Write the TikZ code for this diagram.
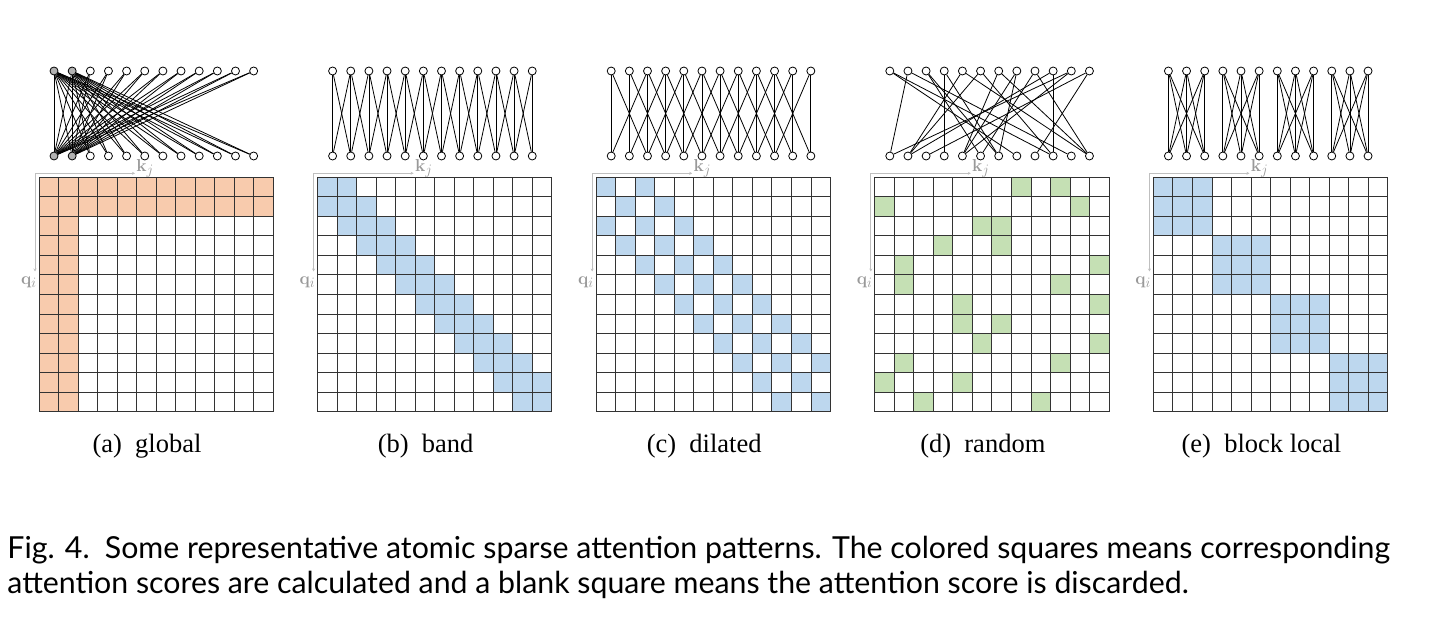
\documentclass[tikz,border=0pt]{standalone}
\usepackage[no-math]{fontspec}
\setmainfont{Liberation Serif}
\newfontfamily\capfont{Lato}
\usetikzlibrary{arrows.meta}

\definecolor{globalc}{HTML}{F8CBAD}
\definecolor{localc}{HTML}{BDD7EE}
\definecolor{randc}{HTML}{C5E0B4}

% which cell (\i,\j) is kept
\newcommand\globaltest{or(\i<2,\j<2)}
\newcommand\bandtest{abs(\i-\j)<2}
\newcommand\dilatedtest{or(\i==\j,abs(\i-\j)==2)}
\newcommand\randomtest{or(\j=={7,0,5,3,1,1,4,4,5,1,0,2}[\i],\j=={9,10,6,6,11,9,11,6,11,9,4,8}[\i])}
\newcommand\blocktest{int(\i/3)==int(\j/3)}

\begin{document}
\begin{tikzpicture}[x=1pt, y=-1pt, line width=0.8pt,
  tok/.style={circle, draw, fill=white, inner sep=0pt, minimum size=8pt, line width=0.8pt},
  link/.style={line width=0.8pt},
  cell/.style={draw=black!80, line width=1pt},
  axis/.style={draw=black!25, line width=0.9pt, {Stealth[length=3pt,width=3pt]}-{Stealth[length=3pt,width=3pt]}},
  axlbl/.style={text=black!40, font=\fontsize{19}{19}\selectfont, inner sep=1pt},
  subcap/.style={font=\fontsize{26.5}{26.5}\selectfont, inner sep=0pt}]
  \useasboundingbox (0,0) rectangle (1440,644);

  \foreach \p/\test/\col/\cap in {0/\globaltest/globalc/{(a)\enspace global},
      1/\bandtest/localc/{(b)\enspace band},
      2/\dilatedtest/localc/{(c)\enspace dilated},
      3/\randomtest/randc/{(d)\enspace random},
      4/\blocktest/localc/{(e)\enspace block local}}{
    \pgfmathsetmacro\L{39+278.6*\p}
    % query and key tokens
    \foreach \k in {0,...,11}{
      \pgfmathtruncatemacro\isg{and(\p==0,\k<2)}
      \ifnum\isg=1 \def\tokfill{gray!60}\else\def\tokfill{white}\fi
      \node[tok, fill=\tokfill] (q\p-\k) at (\L+15+18.15*\k, 71) {};
      \node[tok, fill=\tokfill] (k\p-\k) at (\L+15+18.15*\k, 156) {};
    }
    % kept scores and their links
    \foreach \i in {0,...,11}{
      \foreach \j in {0,...,11}{
        \pgfmathtruncatemacro\hit{\test}
        \ifnum\hit=1
          \fill[\col] (\L+19.53*\j, 177.3+19.53*\i) rectangle ++(19.53,19.53);
          \draw[link] (q\p-\i) -- (k\p-\j);
        \fi
      }
    }
    % score matrix
    \foreach \k in {0,...,12}{
      \draw[cell] (\L+19.53*\k, 177.3) -- ++(0,234.4);
      \draw[cell] (\L, 177.3+19.53*\k) -- ++(234.4,0);
    }
    % axes
    \coordinate (kx\p) at (\L+96, 173.3);
    \coordinate (qx\p) at (\L-4, 271.5);
    \draw[axis] (qx\p) |- (kx\p);
    \node[axlbl, anchor=base west] (kl\p) at (\L+96, 171.5) {$\mathbf{k}_j$};
    \node[axlbl, anchor=north east] (ql\p) at (\L-1, 275) {$\mathbf{q}_i$};
    \node[subcap] (cap\p) at (\L+108, 446) {\cap};
  }

  \node[anchor=base west, inner sep=0pt, font=\capfont\fontsize{30.3}{30.3}\selectfont] (fig1) at (7,558)
    {Fig. 4.\enspace Some representative atomic sparse attention patterns. The colored squares means corresponding};
  \node[anchor=base west, inner sep=0pt, font=\capfont\fontsize{30.3}{30.3}\selectfont] (fig2) at (7,593)
    {attention scores are calculated and a blank square means the attention score is discarded.};
\end{tikzpicture}
\end{document}
